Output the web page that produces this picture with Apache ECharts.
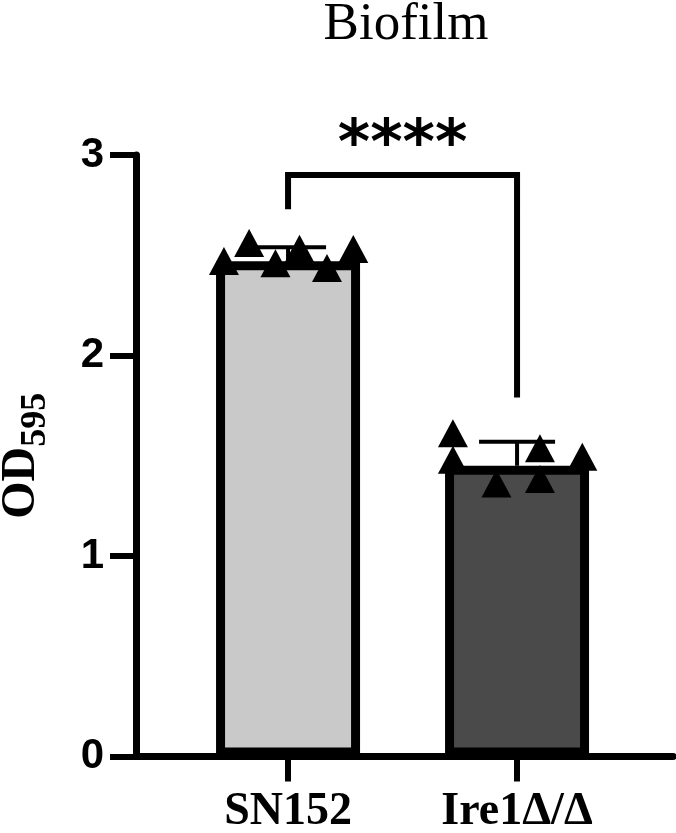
<!DOCTYPE html>
<html>
<head>
<meta charset="utf-8">
<script src="https://cdn.jsdelivr.net/npm/echarts@6/dist/echarts.min.js"></script>
<style>
  html, body { margin: 0; padding: 0; background: #fff; }
  #chart { width: 676px; height: 833px; }
</style>
</head>
<body>
<div id="chart"></div>
<script>
// data
const categories = ['SN152', 'Ire1Δ/Δ']
const barColors = ['#c9c9c9', '#4a4a4a']
const means = [2.47, 1.45]
const sds = [0.07, 0.12]
const sn152Points = [2.471, 2.561, 2.46, 2.532, 2.436, 2.531]
const sn152Jitter = [-0.28, -0.17, -0.055, 0.05, 0.17, 0.285]
const ire1Points = [1.612, 1.48, 1.361, 1.537, 1.384, 1.495]
const ire1Jitter = [-0.28, -0.28, -0.09, 0.1, 0.1, 0.285]
const bracketX = [0, 1]
const bracketY = [2.73, 2.9, 1.79] // left leg end, top, right leg end
const sigLabel = '****'
const sigY = 3.04

const serif = '"Liberation Serif", "Times New Roman", serif'
const sans = '"Liberation Sans", Arial, sans-serif'

const chart = echarts.init(document.getElementById('chart'))

const points = [
  ...sn152Points.map((v, i) => [0 + sn152Jitter[i], v]),
  ...ire1Points.map((v, i) => [1 + ire1Jitter[i], v])
]

const option = {
  animation: false,
  title: {
    text: 'Biofilm',
    left: 401,
    top: -6,
    textAlign: 'center',
    textStyle: { fontFamily: serif, fontWeight: 'normal', fontSize: 53, color: '#000' }
  },
  grid: { left: 136, right: 3, top: 155, bottom: 76.5, containLabel: false, outerBoundsMode: 'none' },
  xAxis: {
    type: 'value',
    min: -0.664,
    max: 1.681,
    splitLine: { show: false },
    axisLine: { show: true, onZero: false, lineStyle: { color: '#000', width: 7 } },
    axisTick: { show: true, customValues: [0, 1], length: 25, lineStyle: { color: '#000', width: 6 } },
    axisLabel: {
      customValues: [0, 1],
      formatter: (v) => categories[Math.round(v)],
      margin: 33,
      color: '#000',
      fontFamily: serif,
      fontWeight: 'bold',
      fontSize: 46
    }
  },
  yAxis: {
    type: 'value',
    min: 0,
    max: 3,
    interval: 1,
    name: '{a|OD}{b|595}',
    nameLocation: 'middle',
    nameRotate: 90,
    nameGap: 82,
    nameTextStyle: {
      rich: {
        a: { fontFamily: serif, fontWeight: 'bold', fontSize: 48, color: '#000' },
        b: { fontFamily: serif, fontWeight: 'bold', fontSize: 36, color: '#000', padding: [28, 0, 0, 0] }
      }
    },
    splitLine: { show: false },
    axisLine: { show: true, onZero: false, lineStyle: { color: '#000', width: 7 } },
    axisTick: { show: true, length: 26, lineStyle: { color: '#000', width: 6 } },
    axisLabel: { margin: 32, color: '#000', fontFamily: sans, fontWeight: 'bold', fontSize: 42 }
  },
  series: [
    {
      type: 'bar',
      barWidth: 144,
      data: means.map((m, i) => ({
        value: [i, m],
        itemStyle: { color: barColors[i], borderColor: '#000', borderWidth: 9 }
      })),
      z: 2
    },
    {
      // error bars (upper only)
      type: 'custom',
      clip: false,
      z: 3,
      data: means.map((m, i) => [i, m, m + sds[i]]),
      encode: { x: 0, y: [1, 2] },
      renderItem: (params, api) => {
        const base = api.coord([api.value(0), api.value(1)])
        const top = api.coord([api.value(0), api.value(2)])
        const half = 38
        return {
          type: 'group',
          children: [
            { type: 'line', shape: { x1: base[0], y1: base[1], x2: top[0], y2: top[1] }, style: { stroke: '#000', lineWidth: 4 } },
            { type: 'line', shape: { x1: top[0] - half, y1: top[1], x2: top[0] + half, y2: top[1] }, style: { stroke: '#000', lineWidth: 4 } }
          ]
        }
      }
    },
    {
      type: 'scatter',
      symbol: 'triangle',
      symbolSize: [30, 28],
      itemStyle: { color: '#000', opacity: 1 },
      data: points,
      z: 4
    },
    {
      // significance bracket
      type: 'custom',
      clip: false,
      z: 5,
      data: [[bracketX[0], bracketY[1]]],
      renderItem: (params, api) => {
        const pL = api.coord([bracketX[0], bracketY[0]])
        const pT = api.coord([bracketX[0], bracketY[1]])
        const pR = api.coord([bracketX[1], bracketY[1]])
        const pRB = api.coord([bracketX[1], bracketY[2]])
        const pS = api.coord([(bracketX[0] + bracketX[1]) / 2, sigY])
        return {
          type: 'group',
          children: [
            {
              type: 'polyline',
              shape: { points: [pL, pT, pR, pRB] },
              style: { stroke: '#000', lineWidth: 6, fill: null, lineJoin: 'miter' }
            },
            {
              type: 'text',
              x: pS[0],
              y: pS[1],
              style: { text: sigLabel, font: 'bold 62px "DejaVu Sans"', fill: '#000', align: 'center', verticalAlign: 'middle' }
            }
          ]
        }
      }
    }
  ]
}

chart.setOption(option)
</script>
</body>
</html>
